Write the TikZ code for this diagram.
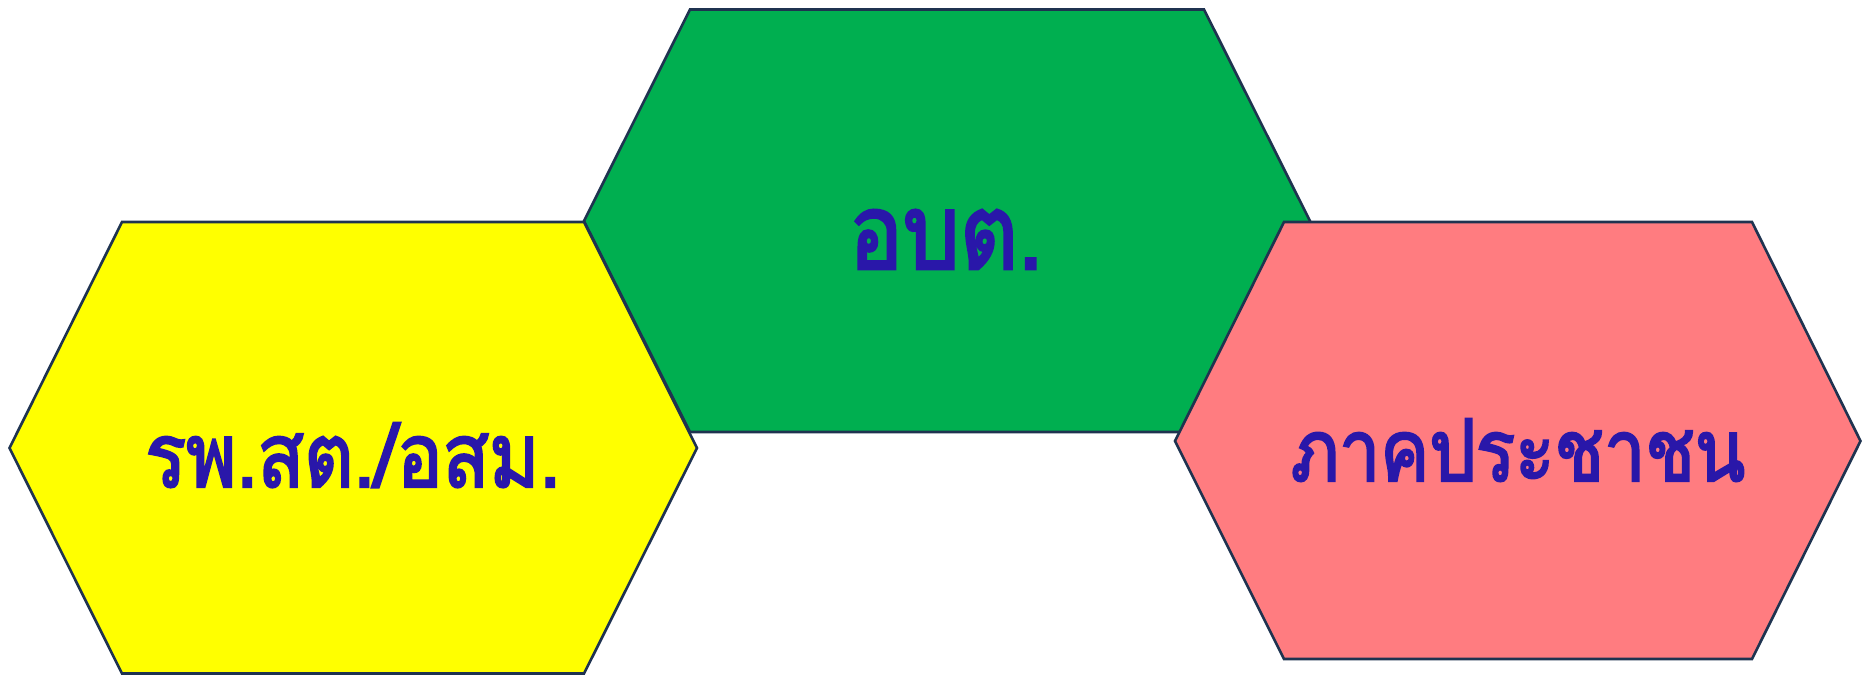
\documentclass[tikz,border=0pt]{standalone}
\usepackage{fontspec}
\usepackage{tikz}
\usetikzlibrary{positioning}
\newfontfamily\thaifont[Script=Thai, FakeBold=2.5, FakeStretch=0.85]{Loma}
\definecolor{hxYellow}{HTML}{FFFF00}
\definecolor{hxGreen}{HTML}{00AF50}
\definecolor{hxPink}{HTML}{FF7C80}
\definecolor{hxEdge}{HTML}{1F3350}
\definecolor{hxText}{HTML}{2917A9}
\tikzset{
  hexbox/.style={draw=hxEdge, line width=0.75pt, line join=miter},
  hexlabel/.style={text=hxText, anchor=base, inner sep=0pt}
}
\begin{document}
\begin{tikzpicture}[x=0.01cm, y=-0.01cm]
  \useasboundingbox (0,0) rectangle (1862,675);
  % green one sits behind the other two
  \filldraw[hexbox, fill=hxGreen] (584,221) -- (690,9.5) -- (1204,9.5) -- (1310,221) -- (1204,432) -- (690,432) -- cycle;
  \filldraw[hexbox, fill=hxYellow] (9.5,448) -- (122,222) -- (584,222) -- (697,448) -- (584,673.5) -- (122,673.5) -- cycle;
  \filldraw[hexbox, fill=hxPink] (1175,441) -- (1284,222) -- (1752,222) -- (1860.5,441) -- (1752,659) -- (1284,659) -- cycle;
  % labels
  \node[hexlabel, font=\thaifont\fontsize{25.5}{30}\selectfont] (rph) at (353,487) {รพ.สต./อสม.};
  \node[hexlabel, font=\thaifont\fontsize{30}{34}\selectfont] (obt) at (946,269) {อบต.};
  \node[hexlabel, font=\thaifont\fontsize{24.5}{29}\selectfont] (pub) at (1518,481) {ภาคประชาชน};
\end{tikzpicture}
\end{document}
